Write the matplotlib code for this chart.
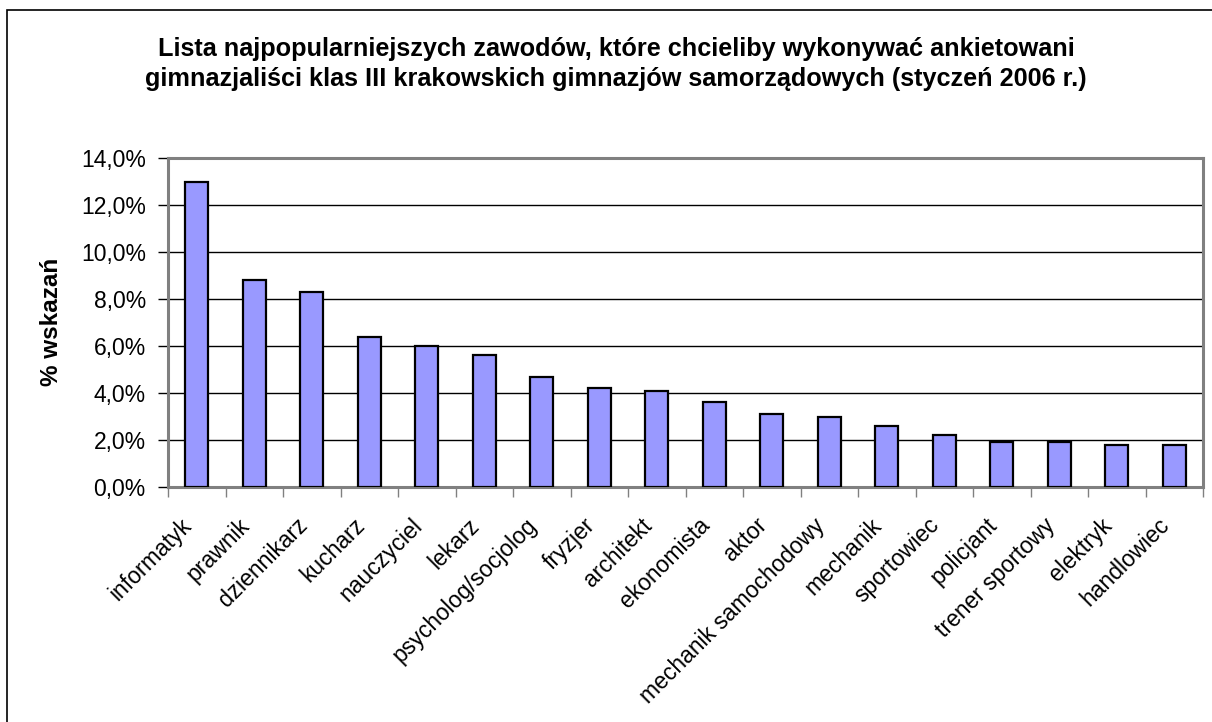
import numpy as np
import matplotlib
matplotlib.use("Agg")
import matplotlib.pyplot as plt
from matplotlib.ticker import FuncFormatter, FixedLocator
from matplotlib.patches import Rectangle

plt.rcParams["font.family"] = ["Liberation Sans", "DejaVu Sans"]

# Data
zawody = [
    "informatyk", "prawnik", "dziennikarz", "kucharz", "nauczyciel",
    "lekarz", "psycholog/socjolog", "fryzjer", "architekt", "ekonomista",
    "aktor", "mechanik samochodowy", "mechanik", "sportowiec", "policjant",
    "trener sportowy", "elektryk", "handlowiec",
]
procent = [13.0, 8.8, 8.3, 6.4, 6.0, 5.6, 4.7, 4.2, 4.1, 3.6,
           3.1, 3.0, 2.6, 2.2, 1.9, 1.9, 1.8, 1.8]
y_ticks = [0, 2, 4, 6, 8, 10, 12, 14]

title = ("Lista najpopularniejszych zawodów, które chcieliby wykonywać ankietowani\n"
         "gimnazjaliści klas III krakowskich gimnazjów samorządowych (styczeń 2006 r.)")

fig = plt.figure(figsize=(12.12, 7.22), dpi=100)
ax = fig.add_axes([168 / 1212, 1 - 487 / 722, (1203 - 168) / 1212, (487 - 158) / 722])

# outer chart frame (only top and left visible)
fig.patches.append(Rectangle((7 / 1212, -0.1), 1.2, 1 - 10 / 722 + 0.1,
                             transform=fig.transFigure, fill=False,
                             edgecolor="black", linewidth=1.2))

x = np.arange(len(zawody))
ax.bar(x, procent, width=0.4, color="#9999FF", edgecolor="black",
       linewidth=1.6, zorder=3)

ax.set_xlim(-0.5, len(zawody) - 0.5)
ax.set_ylim(0, 14)
ax.set_yticks(y_ticks)
ax.yaxis.set_major_formatter(FuncFormatter(lambda v, p: f"{v:.1f}%".replace(".", ",")))
ax.grid(axis="y", color="black", linewidth=1, zorder=1)
ax.set_axisbelow(True)

ax.set_xticks(x)
ax.set_xticklabels(zawody, rotation=45, ha="right", va="bottom",
                   rotation_mode="anchor", fontsize=16.5)
ax.xaxis.set_minor_locator(FixedLocator(np.arange(-0.5, len(zawody), 1)))
ax.tick_params(axis="x", which="major", length=0, pad=31)
ax.tick_params(axis="x", which="minor", length=7, width=1, color="#808080")
ax.tick_params(axis="y", length=7, width=1, color="black", labelsize=16.5, pad=9)

for s in ax.spines.values():
    s.set_color("#808080")
    s.set_linewidth(2.2)

fig.text(51 / 1212, 1 - 322 / 722, "% wskazań", rotation=90, ha="center",
         va="center", fontsize=17.5, fontweight="bold")

fig.text(616 / 1212, 1 - 64 / 722, title, ha="center", va="center",
         fontsize=18.2, fontweight="bold", linespacing=1.35)

fig.savefig("out.png", dpi=100, facecolor="white")
